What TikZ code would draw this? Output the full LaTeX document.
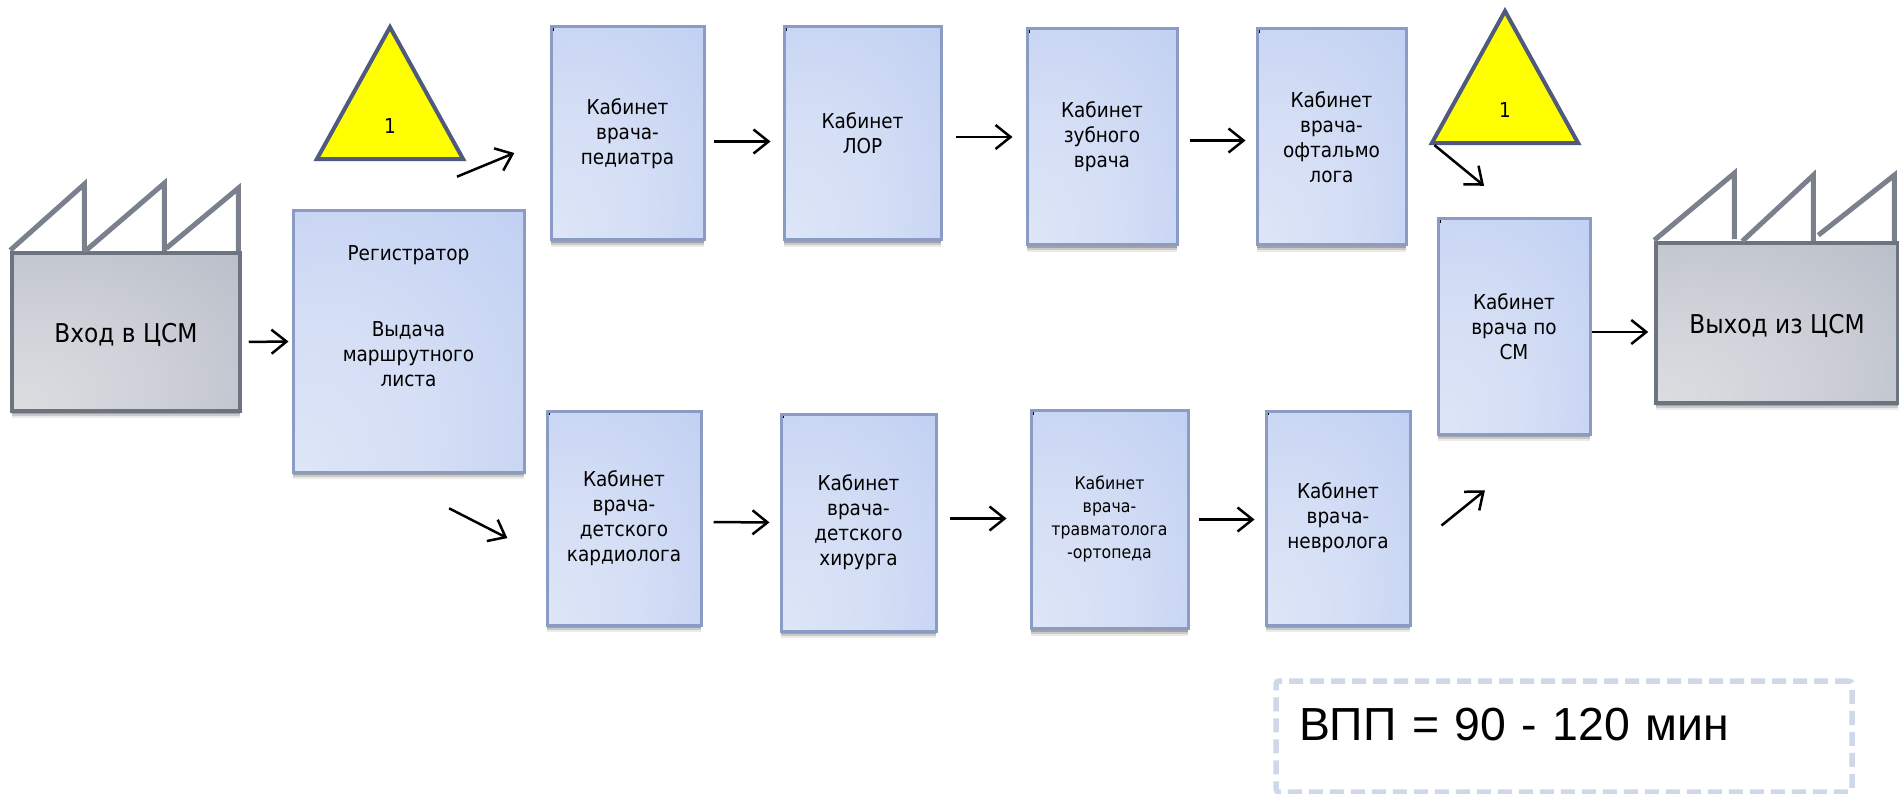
\documentclass[tikz,border=0pt]{standalone}
\usepackage{fontspec}
\setmainfont{DejaVu Sans Condensed}
\newfontfamily\arialfont{Liberation Sans}
\usetikzlibrary{arrows.meta,shapes.geometric,shadows}
\pgfdeclareradialshading{cabinetshade}{\pgfpoint{-25bp}{-25bp}}{rgb(0bp)=(.87,.90,.97); rgb(25bp)=(.83,.87,.96); rgb(55bp)=(.75,.81,.95); rgb(70bp)=(.72,.79,.94); rgb(100bp)=(.71,.78,.93)}
\pgfdeclareradialshading{factoryshade}{\pgfpoint{-25bp}{-25bp}}{rgb(0bp)=(.86,.87,.88); rgb(25bp)=(.81,.82,.85); rgb(55bp)=(.72,.74,.78); rgb(75bp)=(.66,.68,.73); rgb(100bp)=(.60,.63,.68)}
\begin{document}
\begin{tikzpicture}[
        x=1pt, y=-1pt,
        every node/.style={font=\fontsize{20.5}{25}\selectfont, align=center, inner sep=0pt},
        softshadow/.style={
            drop shadow={shadow xshift=0pt, shadow yshift=-7pt, fill=black, opacity=.08},
            drop shadow={shadow xshift=0pt, shadow yshift=-5pt, fill=black, opacity=.14},
            drop shadow={shadow xshift=0pt, shadow yshift=-3pt, fill=black, opacity=.2}},
        cabinet/.style={rectangle, draw=cabinetline, line width=3pt, shading=cabinetshade, softshadow},
        lowered/.style={execute at begin node=\rule{0pt}{19pt}},
        factory/.style={rectangle, draw=factoryline, line width=3.5pt, shading=factoryshade, softshadow,
            font=\fontsize{25.9}{30}\selectfont, execute at begin node=\rule{0pt}{26pt}},
        delay/.style={isosceles triangle, shape border rotate=90, isosceles triangle apex angle=58,
            minimum height=132pt, draw=delayline, line width=4pt, fill=delayfill},
        arr/.style={-{Straight Barb[length=15pt, width=24pt, line width=2.5pt]}, line width=2.5pt},
        roof/.style={draw=roofline, line width=5pt},
    ]
        \definecolor{cabinetline}{HTML}{8A9CC4}
        \definecolor{factoryline}{HTML}{6E747F}
        \definecolor{roofline}{HTML}{7B818C}
        \definecolor{delayline}{HTML}{505A7C}
        \definecolor{delayfill}{HTML}{FFFF00}
        \definecolor{timeline}{HTML}{CFD7E8}
        \useasboundingbox (0,0) rectangle (1899,794);

        % Вход и регистратор
        \node[factory, minimum width=228pt, minimum height=158pt] (vhod) at (126,332) {Вход в ЦСМ};
        \node[cabinet, minimum width=231pt, minimum height=261pt] (reg) at (408.5,341.5)
            {Регистратор\\[51pt]Выдача\\маршрутного\\листа\\[26pt]\mbox{}};

        % Верхний ряд
        \node[cabinet, lowered, minimum width=153pt, minimum height=213pt] (k1) at (627.5,133.5) {Кабинет\\врача-\\педиатра};
        \node[cabinet, lowered, minimum width=157pt, minimum height=213pt] (k2) at (862.5,133.5) {Кабинет\\ЛОР};
        \node[cabinet, lowered, minimum width=150pt, minimum height=216pt] (k3) at (1102,137) {Кабинет\\зубного\\врача};
        \node[cabinet, lowered, minimum width=149pt, minimum height=216pt] (k4) at (1331.5,137) {Кабинет\\врача-\\офтальмо\\лога};

        % Нижний ряд
        \node[cabinet, lowered, minimum width=154pt, minimum height=214pt] (k5) at (624,518) {Кабинет\\врача-\\детского\\кардиолога};
        \node[cabinet, lowered, minimum width=155pt, minimum height=217pt] (k6) at (858.5,522.5) {Кабинет\\врача-\\детского\\хирурга};
        \node[cabinet, lowered, minimum width=157pt, minimum height=218pt, font=\fontsize{17.5}{23}\selectfont] (k7) at (1109.5,519.5) {Кабинет\\врача-\\травматолога\\-ортопеда};
        \node[cabinet, lowered, minimum width=144pt, minimum height=214pt] (k8) at (1338,518) {Кабинет\\врача-\\невролога};

        % Выход
        \node[cabinet, minimum width=152pt, minimum height=215pt] (sm) at (1514,326.5) {Кабинет\\врача по\\СМ};
        \node[factory, minimum width=242pt, minimum height=160pt] (vyhod) at (1777,323) {Выход из ЦСМ};

        % Ожидание
        \node[delay] (tri1) at (390,119.5) {\raisebox{-14pt}[0pt][0pt]{1}};
        \node[delay] (tri2) at (1505,103.5) {\raisebox{-14pt}[0pt][0pt]{1}};

        % Время
        \node[rectangle, rounded corners=3pt, draw=timeline, line width=5.5pt, dash pattern=on 14pt off 7pt,
            minimum width=576pt, minimum height=111pt, text width=530pt, align=left,
            font=\arialfont\fontsize{46.4}{50}\selectfont] (vpp) at (1564,736.5) {ВПП = 90 - 120 мин\\[-26pt]\mbox{}};

        % Крыши
        \draw[roof] ([yshift=1pt]vhod.north west) -- ++(74,-66) -- ++(0,68);
        \draw[roof] ([xshift=76pt,yshift=1pt]vhod.north west) -- ++(78,-67) -- ++(0,68);
        \draw[roof] ([xshift=156pt,yshift=3pt]vhod.north west) -- ++(72,-60) -- ++(0,63);
        \draw[roof] ([yshift=1pt]vyhod.north west) -- ++(80,-67) -- ++(0,66);
        \draw[roof] ([xshift=88pt]vyhod.north west) -- ++(71,-66) -- ++(0,66);
        \draw[roof] ([xshift=164pt,yshift=6pt]vyhod.north west) -- ++(76,-60) -- ++(0,66);

        % Метки в углах
        \foreach \n in {k1,k2,k3,k4,k5,k6,k7,k8,sm}
            \fill ([xshift=3pt,yshift=-3pt]\n.north west) rectangle +(1.5,2.5);

        % Стрелки
        \draw[arr, shorten <=7pt, shorten >=3pt] ([yshift=-10pt]vhod.east) -- (reg.west);
        \draw[arr, shorten <=86pt, shorten >=38pt] ([xshift=-31pt]reg.north) -- ([yshift=-5pt]k1.west);
        \draw[arr, shorten <=76.5pt, shorten >=42.8pt] ([xshift=-27.5pt]reg.south) -- ([yshift=-39.6pt]k5.west);
        \draw[arr, shorten <=8pt, shorten >=12pt] ([yshift=-8pt]k1.east) -- ([yshift=-8pt]k2.west);
        \draw[arr, shorten <=13pt, shorten >=13pt] ([yshift=-3.5pt]k2.east) -- (k3.west);
        \draw[arr, shorten <=11pt, shorten >=10pt] ([yshift=-3.5pt]k3.east) -- ([yshift=-3.5pt]k4.west);
        \draw[arr, shorten <=11pt, shorten >=10pt] ([yshift=-4pt]k5.east) -- (k6.west);
        \draw[arr, shorten <=12pt, shorten >=23pt] ([yshift=4pt]k6.east) -- ([yshift=1pt]k7.west);
        \draw[arr, shorten <=9pt, shorten >=10pt] (k7.east) -- ([yshift=-1.5pt]k8.west);
        \draw[arr, shorten <=38.6pt, shorten >=87.3pt] ([yshift=-31.8pt]k8.east) -- ([xshift=38.8pt]sm.south);
        \draw[arr, shorten >=50pt] ([xshift=6pt]tri2.left corner) -- ([xshift=8.7pt]sm.north);
        \draw[arr, shorten >=6pt] ([yshift=-5.5pt]sm.east) -- ([yshift=-9pt]vyhod.west);
    \end{tikzpicture}
\end{document}
